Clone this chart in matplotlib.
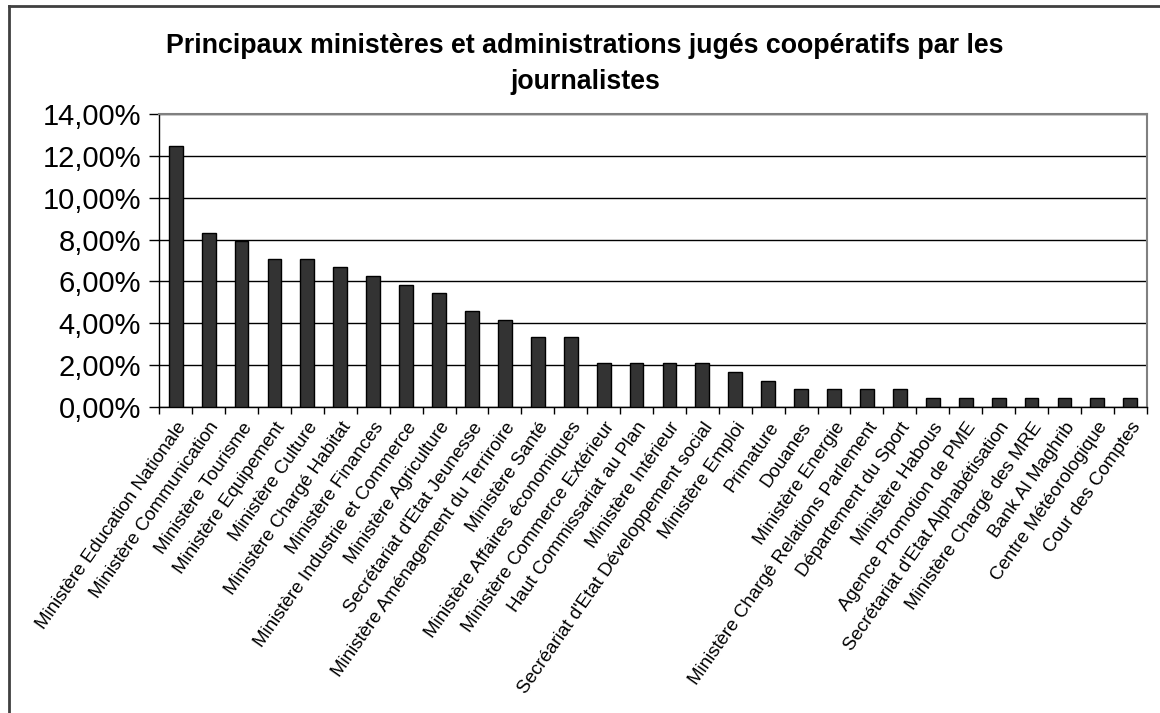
import numpy as np
import matplotlib
matplotlib.use("Agg")
import matplotlib.pyplot as plt
from matplotlib.ticker import FuncFormatter
from matplotlib.lines import Line2D

plt.rcParams['font.family'] = ['Liberation Sans', 'DejaVu Sans']

# categories (in chart order)
categories = [
    "Ministère Education Nationale",
    "Ministère Communication",
    "Ministère Tourisme",
    "Ministère Equipement",
    "Ministère Culture",
    "Ministère Chargé Habitat",
    "Ministère Finances",
    "Ministère Industrie et Commerce",
    "Ministère Agriculture",
    "Secrétariat d'Etat Jeunesse",
    "Ministère Aménagement du Terriroire",
    "Ministère Santé",
    "Ministère Affaires économiques",
    "Ministère Commerce Extérieur",
    "Haut Commissariat au Plan",
    "Ministère Intérieur",
    "Secréariat d'Etat Développement social",
    "Ministère Emploi",
    "Primature",
    "Douanes",
    "Ministère Energie",
    "Ministère Chargé Relations Parlement",
    "Département du Sport",
    "Ministère Habous",
    "Agence Promotion de PME",
    "Secrétariat d'Etat Alphabétisation",
    "Ministère Chargé des MRE",
    "Bank Al Maghrib",
    "Centre Météorologique",
    "Cour des Comptes",
]

# share of journalists (%)
values = [12.50, 8.33, 7.92, 7.08, 7.08, 6.67, 6.25, 5.83, 5.42, 4.58,
          4.17, 3.33, 3.33, 2.08, 2.08, 2.08, 2.08, 1.67, 1.25, 0.83,
          0.83, 0.83, 0.83, 0.42, 0.42, 0.42, 0.42, 0.42, 0.42, 0.42]

title = "Principaux ministères et administrations jugés coopératifs par les\njournalistes"

W, H = 1160, 713
fig = plt.figure(figsize=(W/100, H/100), dpi=100)
ax = fig.add_axes([159.3/W, 1 - 406.7/H, (1146.7-159.3)/W, (406.7-114.3)/H])

x = np.arange(len(categories))
ax.bar(x, values, width=0.42, color='#333333', edgecolor='black', linewidth=1, zorder=3)

ax.set_xlim(-0.5, len(categories) - 0.5)
ax.set_ylim(0, 14)
ax.set_yticks(np.arange(0, 15, 2))
ax.yaxis.set_major_formatter(FuncFormatter(lambda v, p: f"{v:.2f}%".replace('.', ',')))
ax.tick_params(axis='y', labelsize=21, length=7, width=1, direction='out', pad=6)
ax.grid(axis='y', color='black', linewidth=1, zorder=0)

# ticks between categories, labels at centers
ax.set_xticks(np.arange(-0.5, len(categories), 1))
ax.set_xticklabels([])
ax.tick_params(axis='x', which='major', length=5, width=1, direction='out')
ax.set_xticks(x, minor=True)
ax.set_xticklabels(categories, minor=True, rotation=55, ha='right', va='top',
                   rotation_mode='anchor', fontsize=13.5)
ax.tick_params(axis='x', which='minor', length=0, pad=9)

for side in ['left', 'bottom']:
    ax.spines[side].set_color('black')
    ax.spines[side].set_linewidth(1)
for side in ['top', 'right']:
    ax.spines[side].set_color('#808080')
    ax.spines[side].set_linewidth(1.5)

fig.text(585/W, 1 - 64/H, title, ha='center', va='center', fontsize=19.3,
         fontweight='bold', linespacing=1.5)

# outer chart frame (left and top edges visible)
fig.add_artist(Line2D([9/W, 9/W], [0, 1 - 6/H], color='#404040', linewidth=2))
fig.add_artist(Line2D([9/W, 1], [1 - 6/H, 1 - 6/H], color='#404040', linewidth=2))

fig.savefig("out.png", dpi=100, facecolor='white')
